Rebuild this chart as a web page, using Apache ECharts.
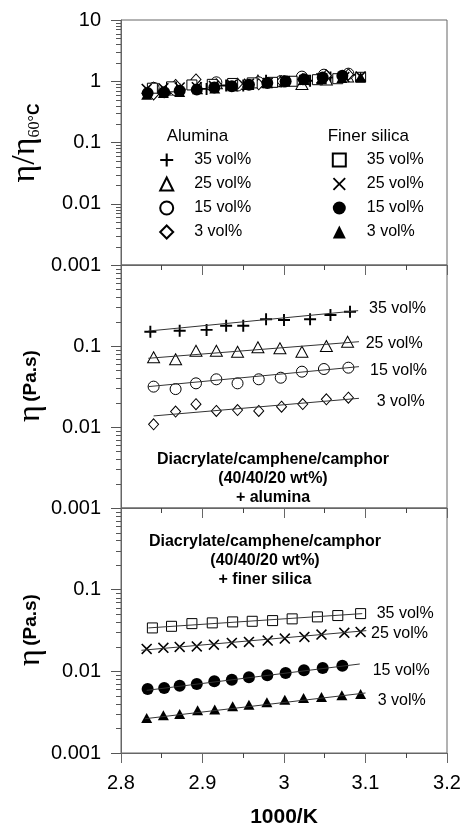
<!DOCTYPE html>
<html>
<head>
<meta charset="utf-8">
<script src="https://cdn.jsdelivr.net/npm/echarts@6/dist/echarts.min.js"></script>
<style>
html, body { margin: 0; padding: 0; background: #fff; }
#chart { width: 464px; height: 829px; }
</style>
</head>
<body>
<div id="chart"></div>
<script>
let font = 'Liberation Sans, Arial, sans-serif'
let serif = 'Liberation Serif, Times New Roman, serif'

// middle panel - alumina (Pa.s)
let alu35_x = [2.836, 2.872, 2.905, 2.929, 2.950, 2.978, 3.000, 3.032, 3.057, 3.081]
let alu35_y = [0.150, 0.154, 0.158, 0.178, 0.178, 0.214, 0.209, 0.214, 0.241, 0.265]
let alu25_x = [2.840, 2.867, 2.892, 2.917, 2.943, 2.968, 2.995, 3.022, 3.052, 3.078]
let alu25_y = [0.0725, 0.0685, 0.0875, 0.0875, 0.085, 0.0964, 0.0937, 0.085, 0.100, 0.113]
let alu15_x = [2.840, 2.867, 2.892, 2.917, 2.943, 2.969, 2.996, 3.022, 3.049, 3.079]
let alu15_y = [0.0315, 0.0294, 0.0346, 0.0388, 0.0346, 0.0388, 0.0406, 0.0482, 0.052, 0.054]
let alu3_x = [2.840, 2.867, 2.892, 2.917, 2.943, 2.969, 2.997, 3.023, 3.052, 3.079]
let alu3_y = [0.0108, 0.0155, 0.0191, 0.0158, 0.0162, 0.0158, 0.0178, 0.0192, 0.022, 0.023]

// fitted lines (end points)
let alu35_fit_x = [2.8335, 3.091], alu35_fit_y = [0.153, 0.273]
let alu25_fit_x = [2.8335, 3.092], alu25_fit_y = [0.0705, 0.113]
let alu15_fit_x = [2.8335, 3.092], alu15_fit_y = [0.0315, 0.0556]
let alu3_fit_x = [2.840, 3.092], alu3_fit_y = [0.0137, 0.0226]

// bottom panel - finer silica (Pa.s)
let sil35_x = [2.8385, 2.862, 2.887, 2.912, 2.937, 2.961, 2.986, 3.010, 3.041, 3.066, 3.094]
let sil35_y = [0.034, 0.0356, 0.0384, 0.0392, 0.0403, 0.041, 0.0418, 0.0439, 0.0464, 0.0482, 0.0509]
let sil25_x = [2.8315, 2.852, 2.872, 2.893, 2.914, 2.936, 2.957, 2.980, 3.001, 3.025, 3.046, 3.074, 3.094]
let sil25_y = [0.0188, 0.0194, 0.0199, 0.0202, 0.0212, 0.0223, 0.0229, 0.0238, 0.0252, 0.0264, 0.0282, 0.0296, 0.0304]
let sil15_x = [2.8327, 2.853, 2.872, 2.893, 2.9145, 2.936, 2.957, 2.9795, 3.002, 3.0245, 3.0475, 3.0716]
let sil15_y = [0.00608, 0.00626, 0.00668, 0.00701, 0.00754, 0.00791, 0.00844, 0.00893, 0.00955, 0.0103, 0.0110, 0.0117]
let sil3_x = [2.8315, 2.852, 2.872, 2.894, 2.915, 2.937, 2.957, 2.979, 3.001, 3.024, 3.046, 3.071, 3.094]
let sil3_y = [0.00268, 0.00289, 0.00301, 0.00333, 0.0034, 0.00373, 0.00391, 0.00417, 0.0045, 0.00472, 0.00486, 0.00508, 0.00528]

let sil35_fit_x = [2.8335, 3.096], sil35_fit_y = [0.034, 0.0509]
let sil25_fit_x = [2.825, 3.101], sil25_fit_y = [0.0181, 0.0315]
let sil15_fit_x = [2.8315, 3.093], sil15_fit_y = [0.00585, 0.0123]
let sil3_fit_x = [2.8295, 3.100], sil3_fit_y = [0.00263, 0.00543]

// top panel - eta / eta(60C)
let alu35_n = [0.72, 0.73, 0.75, 0.85, 0.85, 1.02, 1.0, 1.02, 1.15, 1.27]
let alu25_n = [0.78, 0.73, 0.93, 0.93, 0.90, 1.03, 1.0, 0.90, 1.07, 1.20]
let alu15_n = [0.78, 0.72, 0.85, 0.96, 0.85, 0.96, 1.0, 1.19, 1.28, 1.33]
let alu3_n = [0.61, 0.87, 1.07, 0.89, 0.91, 0.89, 1.0, 1.08, 1.24, 1.29]
let sil35_n = [0.77, 0.81, 0.87, 0.89, 0.92, 0.94, 0.96, 1.0, 1.06, 1.10, 1.16]
let sil25_n = [0.75, 0.77, 0.79, 0.80, 0.84, 0.88, 0.91, 0.94, 1.0, 1.05, 1.12, 1.17, 1.20]
let sil15_n = [0.64, 0.66, 0.70, 0.73, 0.79, 0.83, 0.88, 0.94, 1.0, 1.08, 1.15, 1.23]
let sil3_n = [0.60, 0.64, 0.67, 0.74, 0.76, 0.83, 0.87, 0.93, 1.0, 1.05, 1.08, 1.13, 1.17]

let alu_names = ['Alumina 35 vol%', 'Alumina 25 vol%', 'Alumina 15 vol%', 'Alumina 3 vol%']
let sil_names = ['Silica 35 vol%', 'Silica 25 vol%', 'Silica 15 vol%', 'Silica 3 vol%']

let minor_mult = [2, 3, 4, 5, 6, 7, 8, 9]
let top_decades = [0.001, 0.01, 0.1, 1]
let low_decades = [0.001, 0.01, 0.1]

let plus_path = 'path://M0,4.2H10V5.8H0Z M4.2,0H5.8V10H4.2Z'
let cross_path = 'path://M0,1L1,0L5,4L9,0L10,1L6,5L10,9L9,10L5,6L1,10L0,9L4,5Z'
let tri_path = 'path://M5,0L10,10L0,10Z'
let diamond_path = 'path://M5,0L10,5L5,10L0,5Z'
let square_path = 'path://M0,0H10V10H0Z'

let sym = {
    a35: [plus_path, 12, '#000'],
    a25: [tri_path, [12, 11], '#fff'],
    a15: ['circle', 11, '#fff'],
    a3: [diamond_path, [10, 11], '#fff'],
    s35: [square_path, 10, '#fff'],
    s25: [cross_path, 11, '#000'],
    s15: ['circle', 12, '#000'],
    s3: [tri_path, [11, 10], '#000']
}

function zip(xs, ys) {
    return xs.map(function (x, i) { return [x, ys[i]] })
}

function scatter(name, xs, ys, gi, s) {
    return {
        name: name, type: 'scatter', xAxisIndex: gi, yAxisIndex: gi,
        data: zip(xs, ys), symbol: s[0], symbolSize: s[1],
        itemStyle: { color: s[2], borderColor: '#000', borderWidth: s[2] === '#000' ? 0 : 1, opacity: 1 },
        silent: true, z: 3
    }
}

function fit(xs, ys, gi) {
    return {
        type: 'line', xAxisIndex: gi, yAxisIndex: gi, data: zip(xs, ys),
        symbol: 'none', lineStyle: { color: '#333', width: 1 }, silent: true, z: 4
    }
}

function minorTicks(decades, gi) {
    let data = []
    decades.forEach(function (d) {
        minor_mult.forEach(function (m) { data.push([2.8, m * d]) })
    })
    return {
        type: 'custom', xAxisIndex: gi, yAxisIndex: gi, data: data, silent: true,
        renderItem: function (params, api) {
            let p = api.coord([api.value(0), api.value(1)])
            return {
                type: 'line',
                shape: { x1: p[0] - 5, y1: Math.round(p[1]) + 0.5, x2: p[0], y2: Math.round(p[1]) + 0.5 },
                style: { stroke: '#555', lineWidth: 1 }
            }
        }
    }
}

function xAxis(gi, show) {
    return {
        type: 'value', gridIndex: gi, min: 2.8, max: 3.2, interval: 0.1,
        axisLine: { lineStyle: { color: '#666', width: 1 } },
        axisTick: { length: 10, lineStyle: { color: '#666' } },
        minorTick: { show: true, splitNumber: 2, length: 5, lineStyle: { color: '#444' } },
        splitLine: { show: false },
        axisLabel: {
            show: show, fontSize: 20, margin: 20, color: '#000', fontFamily: font,
            formatter: function (v) { return String(+v.toFixed(2)) }
        },
        name: show ? '1000/K' : '', nameLocation: 'middle', nameGap: 54,
        nameTextStyle: { fontSize: 21, fontWeight: 'bold', color: '#000', fontFamily: font }
    }
}

function yAxis(gi, max, hideTop) {
    return {
        type: 'log', logBase: 10, gridIndex: gi, min: 0.001, max: max,
        axisLine: { show: true, lineStyle: { color: '#666', width: 1 } },
        axisTick: { show: true, length: 10, lineStyle: { color: '#555' } },
        splitLine: { show: false },
        axisLabel: {
            fontSize: 20, margin: 20, color: '#000', fontFamily: font,
            formatter: function (v) {
                if (hideTop && Math.abs(v - max) < 1e-9) return ''
                return String(+v.toPrecision(6))
            }
        }
    }
}

function legend(names, left, prefix) {
    return {
        data: names, orient: 'vertical', left: left, top: 152, padding: 0,
        itemWidth: 13, itemHeight: 13, itemGap: 8, selectedMode: false,
        formatter: function (n) { return n.replace(prefix, '') },
        textStyle: { fontSize: 16, fontFamily: font, color: '#000', padding: [0, 0, 0, 16] }
    }
}

function volLabel(text, x, y) {
    return { type: 'text', x: x, y: y, style: { text: text, fontSize: 16, fontFamily: font, fill: '#000', align: 'left', verticalAlign: 'middle' } }
}

function etaLabel(y) {
    return {
        type: 'text', x: 31, y: y, rotation: Math.PI / 2,
        style: {
            text: '{e|η} {p|(Pa.s)}', align: 'center', verticalAlign: 'middle', fill: '#000',
            rich: {
                e: { fontSize: 32, fontFamily: serif },
                p: { fontSize: 19, fontFamily: font, fontWeight: 'bold' }
            }
        }
    }
}

let chart = echarts.init(document.getElementById('chart'))

let option = {
    animation: false,
    grid: [
        { left: 121, right: 17, top: 20, height: 245, show: true, borderColor: '#666', borderWidth: 1 },
        { left: 121, right: 17, top: 265, height: 243, show: true, borderColor: '#666', borderWidth: 1 },
        { left: 121, right: 17, top: 508, height: 245, show: true, borderColor: '#666', borderWidth: 1 }
    ],
    xAxis: [xAxis(0, false), xAxis(1, false), xAxis(2, true)],
    yAxis: [yAxis(0, 10, false), yAxis(1, 1, true), yAxis(2, 1, true)],
    legend: [legend(alu_names, 159.2, 'Alumina '), legend(sil_names, 331.8, 'Silica ')],
    graphic: [
        {
            type: 'text', x: 25, y: 143, rotation: Math.PI / 2,
            style: {
                text: '{e|η/η}{s|60°}{c|C}', align: 'center', verticalAlign: 'middle', fill: '#000',
                rich: {
                    e: { fontSize: 34, fontFamily: serif, lineHeight: 36 },
                    s: { fontSize: 16, fontFamily: serif, verticalAlign: 'bottom', lineHeight: 19 },
                    c: { fontSize: 16, fontFamily: font, fontWeight: 'bold', verticalAlign: 'bottom', lineHeight: 19 }
                }
            }
        },
        etaLabel(386),
        etaLabel(630),
        { type: 'text', x: 166.7, y: 136.5, style: { text: 'Alumina', fontSize: 17, fontFamily: font, fill: '#000', align: 'left', verticalAlign: 'middle' } },
        { type: 'text', x: 327.7, y: 136, style: { text: 'Finer silica', fontSize: 17, fontFamily: font, fill: '#000', align: 'left', verticalAlign: 'middle' } },
        {
            type: 'text', x: 273, y: 479,
            style: {
                text: 'Diacrylate/camphene/camphor\n(40/40/20 wt%)\n+ alumina', fontSize: 16, fontWeight: 'bold',
                fontFamily: font, fill: '#000', align: 'center', verticalAlign: 'middle', lineHeight: 19
            }
        },
        {
            type: 'text', x: 265, y: 561,
            style: {
                text: 'Diacrylate/camphene/camphor\n(40/40/20 wt%)\n+ finer silica', fontSize: 16, fontWeight: 'bold',
                fontFamily: font, fill: '#000', align: 'center', verticalAlign: 'middle', lineHeight: 19
            }
        },
        volLabel('35 vol%', 369, 309),
        volLabel('25 vol%', 365.7, 344),
        volLabel('15 vol%', 370, 371),
        volLabel('3 vol%', 376.7, 402),
        volLabel('35 vol%', 376.7, 614),
        volLabel('25 vol%', 371, 634),
        volLabel('15 vol%', 372.7, 671),
        volLabel('3 vol%', 377.7, 701)
    ],
    series: [
        minorTicks(top_decades, 0),
        minorTicks(low_decades, 1),
        minorTicks(low_decades, 2),

        // top: normalised
        scatter(alu_names[0], alu35_x, alu35_n, 0, sym.a35),
        scatter(alu_names[1], alu25_x, alu25_n, 0, sym.a25),
        scatter(alu_names[2], alu15_x, alu15_n, 0, sym.a15),
        scatter(alu_names[3], alu3_x, alu3_n, 0, sym.a3),
        scatter(sil_names[0], sil35_x, sil35_n, 0, sym.s35),
        scatter(sil_names[1], sil25_x, sil25_n, 0, sym.s25),
        scatter(sil_names[2], sil15_x, sil15_n, 0, sym.s15),
        scatter(sil_names[3], sil3_x, sil3_n, 0, sym.s3),

        // middle: alumina
        scatter('a35', alu35_x, alu35_y, 1, sym.a35),
        scatter('a25', alu25_x, alu25_y, 1, sym.a25),
        scatter('a15', alu15_x, alu15_y, 1, sym.a15),
        scatter('a3', alu3_x, alu3_y, 1, sym.a3),
        fit(alu35_fit_x, alu35_fit_y, 1),
        fit(alu25_fit_x, alu25_fit_y, 1),
        fit(alu15_fit_x, alu15_fit_y, 1),
        fit(alu3_fit_x, alu3_fit_y, 1),

        // bottom: finer silica
        scatter('s35', sil35_x, sil35_y, 2, sym.s35),
        scatter('s25', sil25_x, sil25_y, 2, sym.s25),
        scatter('s15', sil15_x, sil15_y, 2, sym.s15),
        scatter('s3', sil3_x, sil3_y, 2, sym.s3),
        fit(sil35_fit_x, sil35_fit_y, 2),
        fit(sil25_fit_x, sil25_fit_y, 2),
        fit(sil15_fit_x, sil15_fit_y, 2),
        fit(sil3_fit_x, sil3_fit_y, 2)
    ]
}

chart.setOption(option)
</script>
</body>
</html>
